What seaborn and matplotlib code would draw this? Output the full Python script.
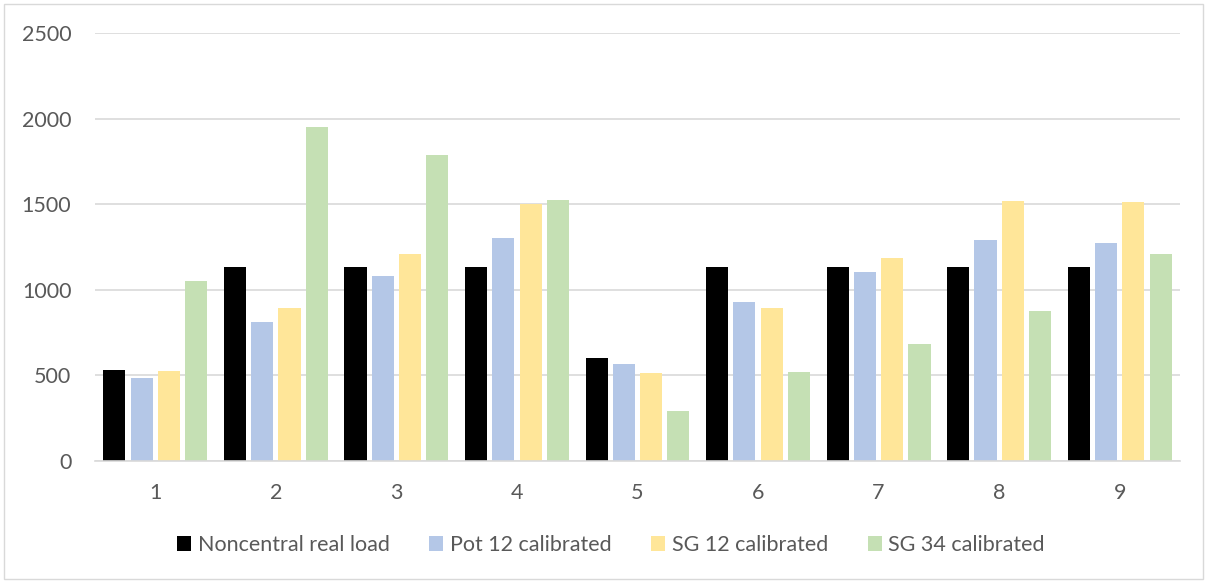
import matplotlib
matplotlib.use("Agg")
import matplotlib.pyplot as plt
from matplotlib.patches import Rectangle
import seaborn as sns
import pandas as pd

groups = ["1", "2", "3", "4", "5", "6", "7", "8", "9"]
noncentral_real_load = [532, 1134, 1134, 1134, 600, 1133, 1133, 1134, 1134]
pot_12_calibrated = [485, 813, 1078, 1304, 565, 930, 1105, 1292, 1275]
sg_12_calibrated = [526, 895, 1209, 1501, 515, 895, 1187, 1520, 1515]
sg_34_calibrated = [1053, 1953, 1788, 1525, 294, 519, 684, 877, 1211]

series_names = ["Noncentral real load", "Pot 12 calibrated", "SG 12 calibrated", "SG 34 calibrated"]
series_values = [noncentral_real_load, pot_12_calibrated, sg_12_calibrated, sg_34_calibrated]
colors = ["#000000", "#B4C7E7", "#FFE699", "#C5E0B4"]

rows = []
for name, vals in zip(series_names, series_values):
    for g, v in zip(groups, vals):
        rows.append({"group": g, "series": name, "value": v})
df = pd.DataFrame(rows)

sns.set_theme(style="white")
plt.rcParams["font.family"] = ["Lato", "DejaVu Sans"]

fig = plt.figure(figsize=(12.07, 5.83), dpi=100)
ax = fig.add_axes([95 / 1207, 1 - 461 / 583, (1180 - 95) / 1207, (461 - 33) / 583])

sns.barplot(data=df, x="group", y="value", hue="series", palette=colors,
            width=0.905, gap=0.19, ax=ax, saturation=1, linewidth=0, legend=True)

ax.set_ylim(0, 2500)
ax.set_xlim(-0.5, 8.5)
ax.set_yticks(range(0, 2501, 500))
ax.yaxis.grid(True, color="#D9D9D9", linewidth=1.2)
ax.set_axisbelow(True)
ax.set_xlabel("")
ax.set_ylabel("")
for side in ["top", "right", "left"]:
    ax.spines[side].set_visible(False)
ax.spines["bottom"].set_color("#D9D9D9")
ax.spines["bottom"].set_linewidth(1.2)
ax.tick_params(axis="both", length=0, labelsize=15.5, labelcolor="#595959")
ax.tick_params(axis="y", pad=17)
ax.tick_params(axis="x", pad=16)

handles, labels = ax.get_legend_handles_labels()
ax.legend_.remove()
fig.legend(handles, labels, loc="center", bbox_to_anchor=(611 / 1207, 1 - 545 / 583),
           ncol=4, frameon=False, fontsize=15.5, labelcolor="#595959",
           handlelength=0.65, handleheight=0.65, handletextpad=0.3, columnspacing=1.85)

fig.patches.append(Rectangle((4 / 1207, 4 / 583), 1 - 8 / 1207, 1 - 8 / 583,
                             transform=fig.transFigure, fill=False,
                             edgecolor="#D9D9D9", linewidth=1))

fig.savefig("out.png", dpi=100)
